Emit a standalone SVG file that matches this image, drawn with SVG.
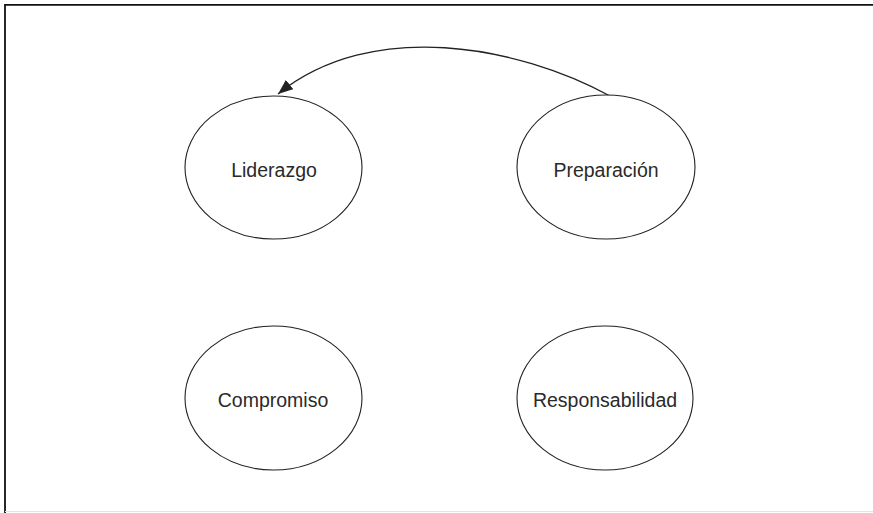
<svg xmlns="http://www.w3.org/2000/svg" width="873" height="513" viewBox="0 0 873 513">
<style>
.node ellipse{fill:#fff;stroke:#222;stroke-width:1.1}
.node text{font-family:"Liberation Sans",Arial,sans-serif;font-size:19.5px;fill:#2a2a2a;text-anchor:middle}
.edge{fill:none;stroke:#222;stroke-width:1.3}
</style>
<defs>
<marker id="arr" markerWidth="16" markerHeight="12" refX="15" refY="6" orient="auto" markerUnits="userSpaceOnUse">
<path d="M0,0 L15,6 L0,12 Z" fill="#222"/>
</marker>
</defs>
<rect width="873" height="513" fill="#fff"/>
<g id="frame">
<path d="M5,513 V4.8 H873" fill="none" stroke="#111" stroke-width="1.8"/>
<line x1="5" y1="511.5" x2="873" y2="511.5" stroke="#e4e4e4" stroke-width="1"/>
</g>
<g id="connectors">
<path class="edge" d="M610,96 C518,46 372,18 278,94" marker-end="url(#arr)"/>
</g>
<g id="liderazgo" class="node">
<ellipse cx="273.5" cy="167.5" rx="88.5" ry="71.5"/>
<text x="274" y="177">Liderazgo</text>
</g>
<g id="preparacion" class="node">
<ellipse cx="606" cy="167" rx="89" ry="72"/>
<text x="606" y="177">Preparación</text>
</g>
<g id="compromiso" class="node">
<ellipse cx="273.5" cy="398" rx="88.5" ry="72"/>
<text x="273" y="407">Compromiso</text>
</g>
<g id="responsabilidad" class="node">
<ellipse cx="605" cy="398" rx="88" ry="72"/>
<text x="605" y="407">Responsabilidad</text>
</g>
</svg>
